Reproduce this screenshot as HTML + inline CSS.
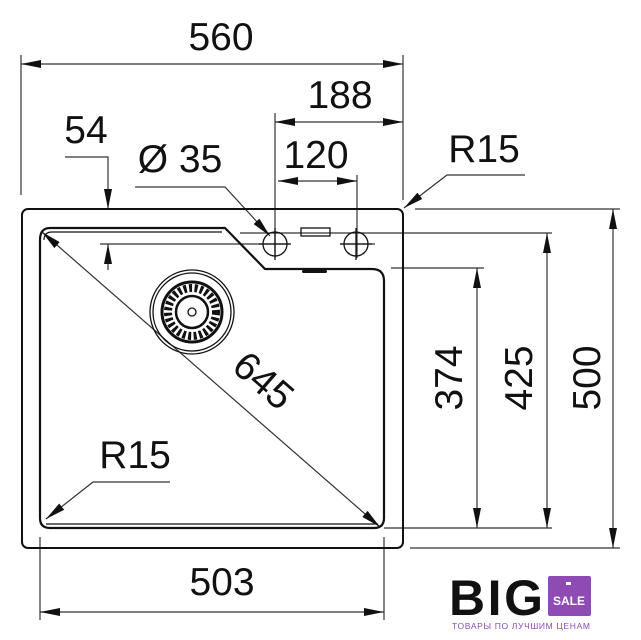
<!DOCTYPE html>
<html><head><meta charset="utf-8"><style>
html,body{margin:0;padding:0;background:#fff;width:641px;height:640px;overflow:hidden}
svg{display:block}
text{font-family:"Liberation Sans",Arial,sans-serif;fill:#111}
</style></head><body>
<svg width="641" height="640" viewBox="0 0 641 640" xmlns="http://www.w3.org/2000/svg">
<defs>
<marker id="a" viewBox="0 0 20 8" refX="20" refY="4" markerWidth="20" markerHeight="8" markerUnits="userSpaceOnUse" orient="auto-start-reverse"><path d="M0,0L20,4L0,8z" fill="#111"/></marker>
</defs>
<g stroke="#333" stroke-width="1.2" fill="none">
<!-- 560 -->
<line x1="21" y1="55" x2="21" y2="195"/><line x1="403" y1="55" x2="403" y2="200"/>
<line x1="21" y1="64" x2="403" y2="64" marker-start="url(#a)" marker-end="url(#a)"/>
<!-- 188 -->
<line x1="275" y1="113" x2="275" y2="258"/>
<line x1="275" y1="122" x2="403" y2="122" marker-start="url(#a)" marker-end="url(#a)"/>
<!-- 120 -->
<line x1="357" y1="175" x2="357" y2="258"/>
<line x1="278" y1="181" x2="357" y2="181" marker-start="url(#a)" marker-end="url(#a)"/>
<!-- 54 -->
<polyline points="65,157 108,157 108,209" marker-end="url(#a)"/>
<line x1="108" y1="270" x2="108" y2="244" marker-end="url(#a)"/>
<line x1="100" y1="244" x2="290" y2="244"/>
<line x1="340" y1="244" x2="375" y2="244"/>
<line x1="240" y1="233" x2="552" y2="233"/>
<!-- Ø35 leader -->
<polyline points="135,187 225,187 270,236" marker-end="url(#a)"/>
<!-- R15 top right -->
<polyline points="525,175 447,175 404,208" marker-end="url(#a)"/>
<!-- 500 -->
<line x1="415" y1="209" x2="620" y2="209"/>
<line x1="410" y1="548" x2="620" y2="548"/>
<line x1="613" y1="209" x2="613" y2="548" marker-start="url(#a)" marker-end="url(#a)"/>
<!-- 425 -->
<line x1="384" y1="528" x2="552" y2="528"/>
<line x1="547" y1="233" x2="547" y2="528" marker-start="url(#a)" marker-end="url(#a)"/>
<!-- 374 -->
<line x1="391" y1="268" x2="484" y2="268"/>
<line x1="477" y1="268" x2="477" y2="528" marker-start="url(#a)" marker-end="url(#a)"/>
<!-- 645 diagonal -->
<line x1="42" y1="232" x2="380" y2="527" marker-start="url(#a)" marker-end="url(#a)"/>
<!-- R15 bottom -->
<polyline points="170,482 93,482 46,519" marker-end="url(#a)"/>
<!-- 503 -->
<line x1="40" y1="537" x2="40" y2="620"/><line x1="384" y1="537" x2="384" y2="620"/>
<line x1="40" y1="612" x2="384" y2="612" marker-start="url(#a)" marker-end="url(#a)"/>
</g>
<!-- sink outline -->
<rect x="22" y="209" width="381" height="339" rx="6" fill="none" stroke="#111" stroke-width="2"/>
<path d="M40,240 Q40,228 50,228 L225,228 L265,269 L372,269 Q384,269 384,281 L384,518 Q384,528 374,528 L50,528 Q40,528 40,518 Z" fill="none" stroke="#111" stroke-width="2.2"/>
<path d="M44,240 Q44,232 52,232 L222,232" fill="none" stroke="#111" stroke-width="1.2"/>
<line x1="46" y1="524" x2="378" y2="524" stroke="#111" stroke-width="1.2"/>
<!-- holes -->
<g stroke="#111" stroke-width="1.3" fill="none">
<circle cx="275" cy="244" r="12"/><circle cx="356" cy="244" r="12"/>
<line x1="275" y1="228" x2="275" y2="260"/><line x1="259" y1="244" x2="291" y2="244"/>
<line x1="356" y1="228" x2="356" y2="260"/><line x1="340" y1="244" x2="372" y2="244"/>
<rect x="301" y="228" width="29" height="8"/>
</g>
<rect x="302" y="270" width="25" height="3" rx="1.5" fill="#111"/>
<!-- drain -->
<g fill="none" stroke="#111">
<circle cx="192" cy="312" r="42" stroke-width="1.3"/>
<circle cx="192" cy="312" r="39" stroke-width="1.3"/>
<circle cx="192" cy="312" r="30" stroke-width="3"/>
<circle cx="192" cy="312" r="24" stroke-width="8" stroke-dasharray="3 2.5"/>
<circle cx="192" cy="312" r="16" stroke-width="2.5"/>
<circle cx="192" cy="312" r="4" stroke-width="1.3"/>
</g>
<!-- labels -->
<g font-size="39">
<text x="221" y="50" text-anchor="middle">560</text>
<text x="340" y="108" text-anchor="middle">188</text>
<text x="316" y="168" text-anchor="middle">120</text>
<text x="86" y="143" text-anchor="middle">54</text>
<text x="180" y="172" text-anchor="middle">Ø 35</text>
<text x="484" y="162" text-anchor="middle">R15</text>
<text x="135" y="468" text-anchor="middle">R15</text>
<text x="222" y="595" text-anchor="middle">503</text>
<text transform="translate(264,380) rotate(41)" text-anchor="middle" dy="14">645</text>
<text transform="translate(462,378) rotate(-90)" text-anchor="middle">374</text>
<text transform="translate(532,378) rotate(-90)" text-anchor="middle">425</text>
<text transform="translate(600,378) rotate(-90)" text-anchor="middle">500</text>
</g>
<!-- logo -->
<text x="449" y="615" font-size="50" font-weight="bold" style="letter-spacing:-2px" textLength="92">BIG</text>
<rect x="548" y="576" width="43" height="40" rx="2" fill="#8e4bb3"/>
<rect x="566" y="582" width="5" height="3" fill="#fff"/>
<text x="569" y="605" font-size="12" font-weight="bold" text-anchor="middle" style="fill:#fff">SALE</text>
<text x="452" y="629" font-size="8.5" style="fill:#8e4bb3" textLength="138">ТОВАРЫ ПО ЛУЧШИМ ЦЕНАМ</text>
</svg>
</body></html>
